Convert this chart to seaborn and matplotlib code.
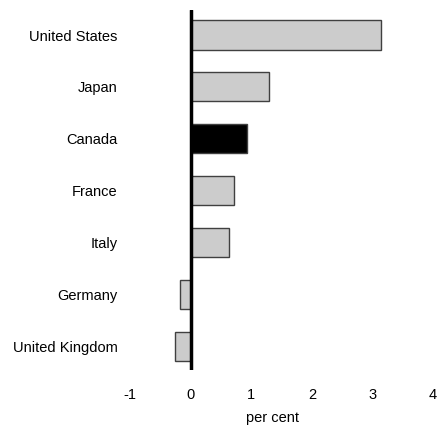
import pandas as pd
import matplotlib
matplotlib.use("Agg")
import matplotlib.pyplot as plt
import seaborn as sns

countries = ["United States", "Japan", "Canada", "France", "Italy", "Germany", "United Kingdom"]
values = [3.14, 1.29, 0.93, 0.72, 0.63, -0.17, -0.26]
highlight = "Canada"
xticks = [-1, 0, 1, 2, 3, 4]

df = pd.DataFrame({"country": countries, "value": values})
palette = {c: ("#000000" if c == highlight else "#cccccc") for c in countries}

sns.set_style("white")
plt.rcParams["font.family"] = ["Liberation Sans", "DejaVu Sans"]
plt.rcParams["axes.unicode_minus"] = False
plt.rcParams["text.color"] = "black"
plt.rcParams["xtick.color"] = "black"
plt.rcParams["ytick.color"] = "black"
plt.rcParams["axes.labelcolor"] = "black"

fig = plt.figure(figsize=(4.44, 4.29), dpi=100)
ax = fig.add_axes([0.293, 0.1375, 0.6825, 0.839])

sns.barplot(data=df, x="value", y="country", hue="country", palette=palette,
            orient="h", width=0.56, edgecolor="#404040", linewidth=1.0,
            saturation=1, legend=False, ax=ax)

ax.axvline(0, color="black", linewidth=2.5, zorder=5)
ax.set_xlim(-1, 4)
ax.set_ylim(6.45, -0.48)
ax.set_xticks(xticks)
ax.set_xticklabels([str(t) for t in xticks])
for s in ax.spines.values():
    s.set_visible(False)
ax.tick_params(axis="both", length=0, labelsize=10.5)
ax.tick_params(axis="x", pad=13)
ax.tick_params(axis="y", pad=9)
ax.set_ylabel("")
ax.set_xlabel("per cent", fontsize=10.5)
ax.xaxis.set_label_coords(0.469, -0.113)

fig.savefig("out.png", dpi=100)
